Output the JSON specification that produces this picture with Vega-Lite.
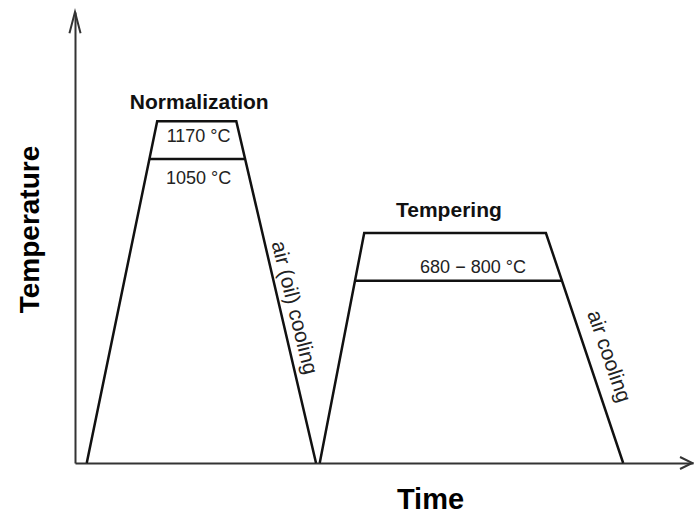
{
  "$schema": "https://vega.github.io/schema/vega-lite/v6.json",
  "width": 618,
  "height": 451,
  "autosize": {"type": "none"},
  "padding": {"left": 75, "top": 12, "right": 1, "bottom": 50},
  "background": "white",
  "config": {"view": {"stroke": null}, "font": "Liberation Sans"},
  "datasets": {
    "paths": [
      {"path": "normalization", "o": 1, "t": 1.9, "T": 0},
      {"path": "normalization", "o": 2, "t": 13.3, "T": 75.8},
      {"path": "normalization", "o": 3, "t": 26.1, "T": 75.8},
      {"path": "normalization", "o": 4, "t": 39.0, "T": 0},
      {"path": "normalization hold", "o": 1, "t": 12.1, "T": 67.4},
      {"path": "normalization hold", "o": 2, "t": 27.4, "T": 67.4},
      {"path": "tempering", "o": 1, "t": 39.6, "T": 0},
      {"path": "tempering", "o": 2, "t": 46.8, "T": 51.0},
      {"path": "tempering", "o": 3, "t": 76.2, "T": 51.0},
      {"path": "tempering", "o": 4, "t": 88.7, "T": 0},
      {"path": "tempering hold", "o": 1, "t": 45.3, "T": 40.4},
      {"path": "tempering hold", "o": 2, "t": 78.8, "T": 40.4}
    ],
    "arrows": [
      {"path": "y arrow", "o": 1, "t": -0.9, "T": 95.3},
      {"path": "y arrow", "o": 2, "t": 0, "T": 100},
      {"path": "y arrow", "o": 3, "t": 0.9, "T": 95.3},
      {"path": "x arrow", "o": 1, "t": 97.9, "T": 1.33},
      {"path": "x arrow", "o": 2, "t": 99.9, "T": 0},
      {"path": "x arrow", "o": 3, "t": 97.9, "T": -1.33}
    ],
    "stages": [
      {"label": "Normalization", "t": 20.1, "T": 78.5},
      {"label": "Tempering", "t": 60.5, "T": 54.5}
    ],
    "temps": [
      {"label": "1170 °C", "t": 20.0, "T": 71.2},
      {"label": "1050 °C", "t": 20.0, "T": 61.9},
      {"label": "680 − 800 °C", "t": 64.4, "T": 42.1}
    ],
    "cooling": [
      {"label": "air (oil) cooling", "t": 35.4, "T": 34.4},
      {"label": "air cooling", "t": 86.3, "T": 23.6}
    ]
  },
  "encoding": {
    "x": {
      "field": "t", "type": "quantitative",
      "scale": {"domain": [0, 100], "nice": false, "zero": false},
      "axis": {
        "title": "Time", "domain": true, "domainColor": "#333", "domainWidth": 2,
        "ticks": false, "labels": false, "grid": false,
        "titleFontSize": 29, "titleFontWeight": "bold", "titleColor": "#000",
        "titleX": 355, "titleY": 45, "titleAlign": "center", "titleBaseline": "alphabetic"
      }
    },
    "y": {
      "field": "T", "type": "quantitative",
      "scale": {"domain": [0, 100], "nice": false, "zero": false},
      "axis": {
        "title": "Temperature", "domain": true, "domainColor": "#333", "domainWidth": 2,
        "ticks": false, "labels": false, "grid": false,
        "titleFontSize": 28, "titleFontWeight": "bold", "titleColor": "#000",
        "titleAngle": -90, "titleX": -37, "titleY": 217, "titleAlign": "center", "titleBaseline": "alphabetic"
      }
    }
  },
  "layer": [
    {
      "data": {"name": "paths"},
      "mark": {"type": "line", "color": "#111", "strokeWidth": 2.5, "strokeJoin": "miter"},
      "encoding": {"detail": {"field": "path"}, "order": {"field": "o", "type": "quantitative"}}
    },
    {
      "data": {"name": "arrows"},
      "mark": {"type": "line", "color": "#333", "strokeWidth": 2, "strokeJoin": "miter"},
      "encoding": {"detail": {"field": "path"}, "order": {"field": "o", "type": "quantitative"}}
    },
    {
      "data": {"name": "stages"},
      "mark": {"type": "text", "fontSize": 21, "fontWeight": "bold", "align": "center", "baseline": "alphabetic", "color": "#111"},
      "encoding": {"text": {"field": "label"}}
    },
    {
      "data": {"name": "temps"},
      "mark": {"type": "text", "fontSize": 18, "align": "center", "baseline": "alphabetic", "color": "#222"},
      "encoding": {"text": {"field": "label"}}
    },
    {
      "data": {"name": "cooling"},
      "transform": [{"filter": "datum.label == 'air (oil) cooling'"}],
      "mark": {"type": "text", "fontSize": 21, "align": "center", "baseline": "middle", "angle": 76, "color": "#222"},
      "encoding": {"text": {"field": "label"}}
    },
    {
      "data": {"name": "cooling"},
      "transform": [{"filter": "datum.label == 'air cooling'"}],
      "mark": {"type": "text", "fontSize": 21, "align": "center", "baseline": "middle", "angle": 71, "color": "#222"},
      "encoding": {"text": {"field": "label"}}
    }
  ]
}
